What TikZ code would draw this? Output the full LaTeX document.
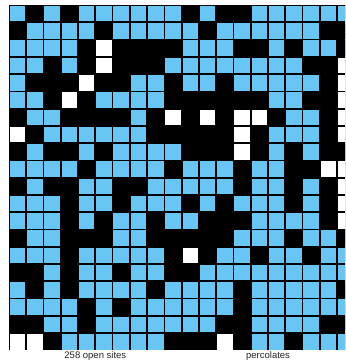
\documentclass[tikz,border=0pt]{standalone}
\usepackage{fontspec}
\setmainfont{Liberation Sans}
\usepackage{tikz}
\definecolor{siteB}{RGB}{103,198,243}
\definecolor{siteW}{RGB}{255,255,255}
\definecolor{siteK}{RGB}{0,0,0}
\tikzset{
  lbl/.style={font=\fontsize{9.5}{11}\selectfont,inner sep=0pt,text=black!85},
}
\begin{document}
\begin{tikzpicture}[x=17.27pt,y=17.27pt]
\path[use as bounding box,fill=white] (-0.521,0.29) rectangle (19.456,-20.67);
\clip (-0.521,0.29) rectangle (19.456,-20.67);
% grid background (blocked)
\fill[siteK] (0,0) rectangle (20,-20);
% sites: B = full, W = open, K = blocked
\foreach \row [count=\r from 0] in {
  {B,K,B,K,B,B,B,B,B,B,K,B,K,K,B,B,B,B,B,B},
  {K,B,B,B,B,K,B,B,B,B,B,K,B,B,B,B,B,B,K,K},
  {B,B,B,B,K,W,K,K,K,K,B,B,B,K,K,B,K,B,B,K},
  {B,B,K,B,K,W,K,K,K,B,B,B,B,B,B,B,B,K,K,W},
  {B,K,K,K,W,K,K,B,B,K,B,B,K,B,B,B,B,B,K,W},
  {B,B,K,W,K,B,B,B,B,K,K,K,K,K,K,B,B,K,K,W},
  {K,B,B,K,K,K,K,B,K,W,K,W,K,W,W,K,B,B,K,W},
  {W,K,B,B,B,B,B,B,K,K,K,K,K,W,K,B,B,B,K,W},
  {K,B,K,K,B,K,B,B,B,B,K,K,K,W,K,B,K,B,K,K},
  {B,B,B,B,K,B,B,B,B,K,B,B,B,K,B,B,K,K,W,W},
  {K,B,K,K,B,B,K,K,B,B,B,B,B,K,B,B,K,B,K,W},
  {B,B,B,K,B,B,K,B,B,B,K,B,K,B,B,B,K,B,K,W},
  {B,B,B,K,B,K,B,B,K,B,B,K,K,K,B,B,B,B,K,W},
  {K,B,B,K,K,K,B,B,K,K,K,K,K,B,B,B,K,B,B,K},
  {B,B,B,K,B,B,B,B,B,K,W,K,B,B,K,B,B,K,B,B},
  {K,K,B,K,B,B,K,B,B,K,K,B,B,B,B,B,B,B,B,B},
  {B,K,B,K,B,B,B,B,K,B,B,B,B,K,B,B,B,B,B,K},
  {B,B,B,B,K,B,K,B,B,B,B,B,B,K,B,B,B,B,B,B},
  {K,K,B,B,K,B,B,B,B,B,B,B,K,K,B,B,B,B,K,K},
  {W,W,K,B,B,B,B,B,B,K,K,K,W,K,B,B,K,B,B,B}}{
  \foreach \s [count=\c from 0] in \row {
    \fill[fill=site\s] (\c+0.05,-\r-0.05) rectangle (\c+0.95,-\r-0.95);
  }
}
\node[lbl] (nOpen) at (5,-20.33) {258 open sites};
\node[lbl] (nPerc) at (15,-20.33) {percolates};
\end{tikzpicture}
\end{document}
